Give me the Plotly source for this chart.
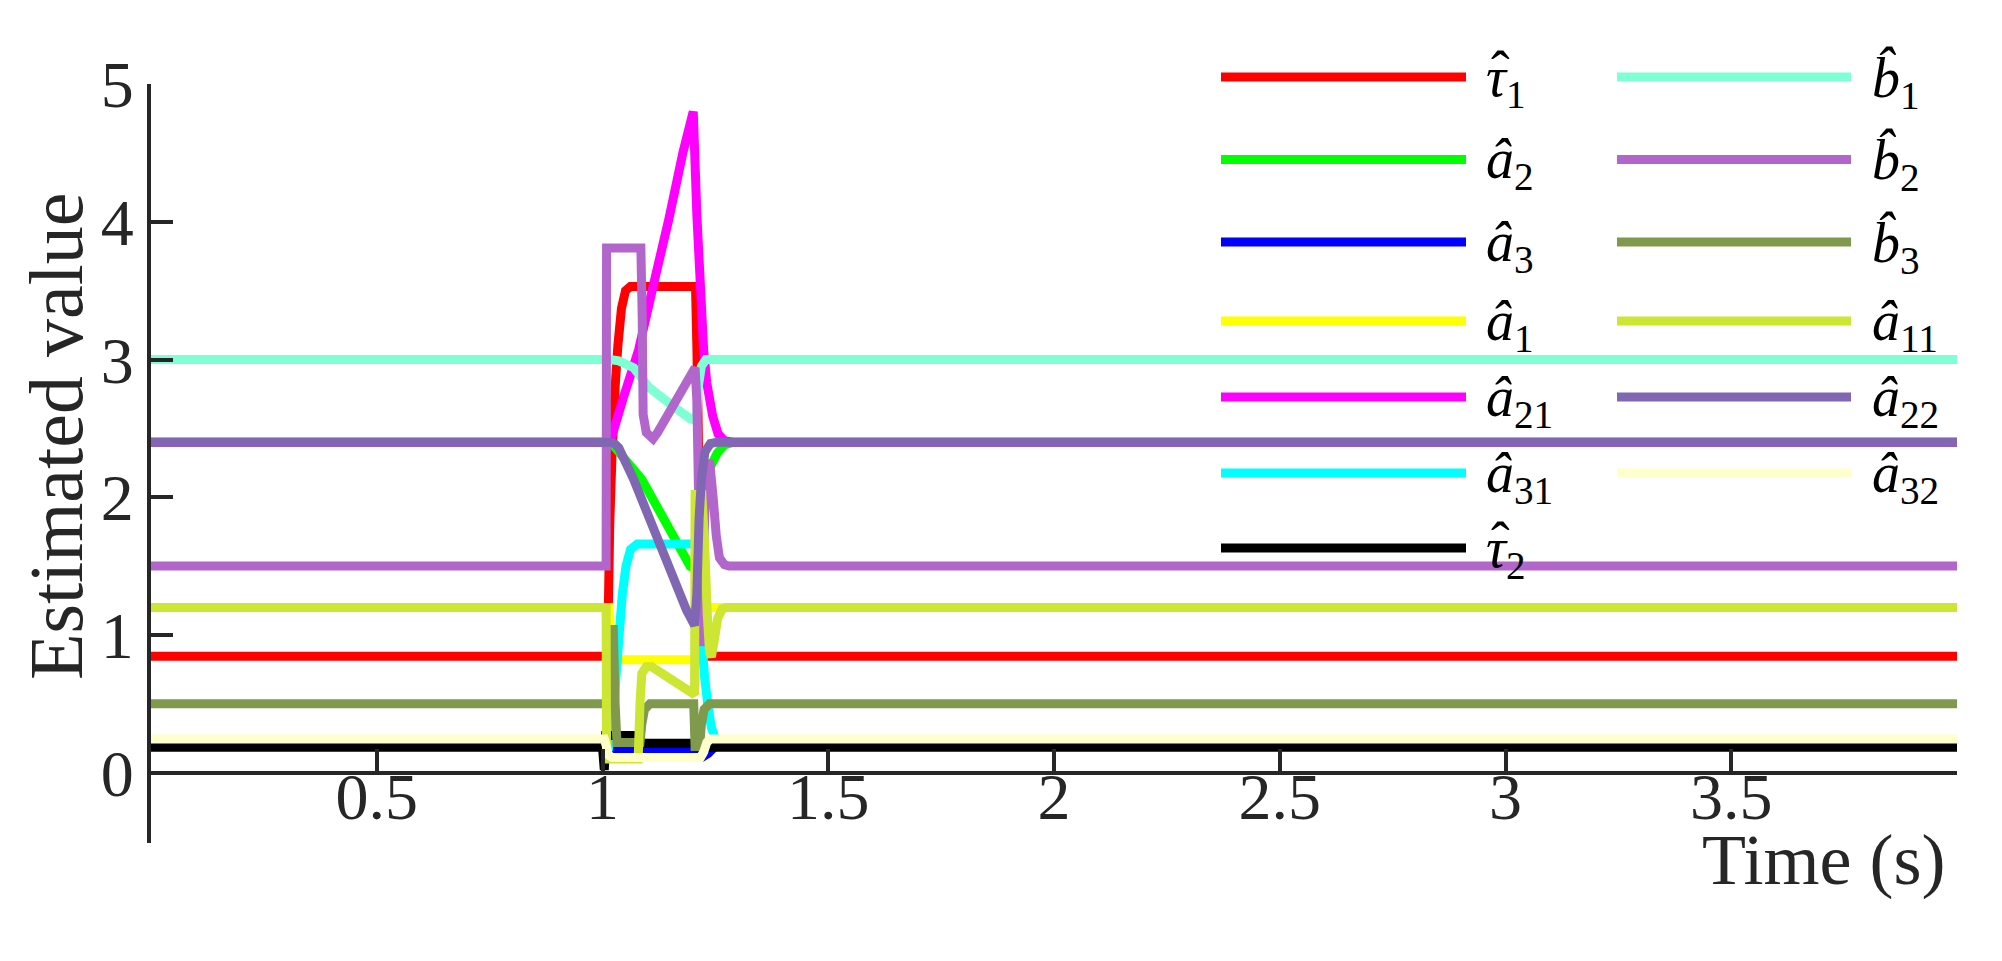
import plotly.graph_objects as go

# ---- data (time in s, estimated values) ----
tau1_t = [0, 1.009, 1.013, 1.016, 1.021, 1.028, 1.034, 1.042, 1.051, 1.062, 1.206, 1.209, 1.214, 1.219, 1.224, 1.232, 4]
tau1_v = [0.845, 0.845, 1.2, 1.8, 2.3, 2.8, 3.1, 3.37, 3.5, 3.53, 3.53, 3.1, 2.1, 1.25, 0.92, 0.845, 0.845]

a2_t = [0, 1.016, 1.028, 1.087, 1.194, 1.205, 1.214, 1.219, 1.229, 1.239, 1.254, 1.270, 1.290, 4]
a2_v = [2.4, 2.4, 2.36, 2.13, 1.5, 1.48, 1.7, 1.9, 2.1, 2.22, 2.32, 2.38, 2.4, 2.4]

a3_t = [0, 1.011, 1.016, 1.209, 1.224, 1.234, 1.249, 4]
a3_v = [0.19, 0.19, 0.16, 0.16, 0.12, 0.14, 0.19, 0.19]

a1_t = [0, 1.014, 1.019, 1.026, 1.036, 1.204, 1.209, 1.215, 1.224, 4]
a1_v = [1.2, 1.2, 1.0, 0.86, 0.82, 0.82, 0.95, 1.15, 1.2, 1.2]

a21_t = [0, 1.016, 1.026, 1.046, 1.080, 1.117, 1.147, 1.178, 1.201, 1.209, 1.224, 1.231, 1.244, 1.256, 1.270, 1.290, 4]
a21_v = [2.4, 2.4, 2.5, 2.72, 3.07, 3.6, 4.02, 4.5, 4.8, 4.05, 3.07, 2.83, 2.59, 2.46, 2.41, 2.4, 2.4]

a31_t = [0, 1.014, 1.024, 1.031, 1.038, 1.044, 1.052, 1.062, 1.077, 1.206, 1.211, 1.219, 1.226, 1.233, 1.241, 1.251, 1.265, 4]
a31_v = [0.19, 0.19, 0.4, 0.75, 1.05, 1.3, 1.5, 1.62, 1.66, 1.66, 1.4, 1.0, 0.7, 0.5, 0.33, 0.24, 0.19, 0.19]

tau2_t = [0, 1.000, 1.004, 1.007, 1.082, 1.087, 1.209, 1.219, 4]
tau2_v = [0.185, 0.185, 0.02, 0.27, 0.27, 0.215, 0.215, 0.185, 0.185]

b1_t = [0, 1.016, 1.036, 1.069, 1.102, 1.157, 1.194, 1.208, 1.212, 1.219, 1.229, 4]
b1_v = [3.0, 3.0, 2.99, 2.94, 2.8, 2.66, 2.57, 2.56, 2.8, 2.95, 3.0, 3.0]

b2_t = [0, 1.008, 1.009, 1.085, 1.088, 1.090, 1.097, 1.112, 1.122, 1.205, 1.209, 1.214, 1.219,
        1.224, 1.229, 1.237, 1.245, 1.252, 1.259, 1.270, 1.280, 4]
b2_v = [1.5, 1.5, 3.81, 3.81, 3.3, 2.6, 2.47, 2.425, 2.47, 2.94, 2.7, 1.8, 0.92,
        1.6, 2.15, 2.27, 2.0, 1.72, 1.56, 1.51, 1.5, 1.5]

b3_t = [0, 1.010, 1.013, 1.024, 1.028, 1.032, 1.083, 1.087, 1.093, 1.105, 1.202, 1.205, 1.215, 1.219, 1.225, 1.237, 4]
b3_v = [0.5, 0.5, 1.04, 1.04, 0.5, 0.22, 0.22, 0.35, 0.46, 0.5, 0.5, 0.19, 0.19, 0.35, 0.46, 0.5, 0.5]

a11_t = [0, 1.008, 1.009, 1.079, 1.083, 1.087, 1.097, 1.109, 1.204, 1.205, 1.220, 1.227, 1.232,
         1.237, 1.241, 1.247, 1.255, 1.265, 1.275, 4]
a11_v = [1.2, 1.2, 0.1, 0.1, 0.5, 0.72, 0.77, 0.77, 0.567, 2.02, 2.02, 1.6, 1.15,
         0.88, 0.84, 0.95, 1.12, 1.19, 1.2, 1.2]

a22_t = [0, 1.016, 1.026, 1.036, 1.046, 1.069, 1.186, 1.204, 1.209, 1.214, 1.219, 1.227, 1.239, 1.254, 4]
a22_v = [2.4, 2.4, 2.39, 2.36, 2.29, 2.13, 1.18, 1.07, 1.3, 1.85, 2.13, 2.33, 2.39, 2.4, 2.4]

a32_t = [0, 1.004, 1.008, 1.013, 1.021, 1.217, 1.224, 1.231, 1.239, 4]
a32_v = [0.245, 0.245, 0.2, 0.13, 0.11, 0.11, 0.15, 0.22, 0.245, 0.245]

x_ticks = [0.5, 1, 1.5, 2, 2.5, 3, 3.5, 4]
x_tick_text = ["0.5", "1", "1.5", "2", "2.5", "3", "3.5", ""]
y_ticks = [0, 1, 2, 3, 4, 5]

# legend is laid out column-major, two columns (like MATLAB NumColumns=2)
# (label, has a separate hat drawn over it, t, v, colour)
series = [
    ("<i>τ</i><sub>1</sub>", True, tau1_t, tau1_v, "#FF0000"),
    ("<i>â</i><sub>2</sub>", False, a2_t, a2_v, "#00FF00"),
    ("<i>â</i><sub>3</sub>", False, a3_t, a3_v, "#0000FF"),
    ("<i>â</i><sub>1</sub>", False, a1_t, a1_v, "#FFFF00"),
    ("<i>â</i><sub>21</sub>", False, a21_t, a21_v, "#FF00FF"),
    ("<i>â</i><sub>31</sub>", False, a31_t, a31_v, "#00FFFF"),
    ("<i>τ</i><sub>2</sub>", True, tau2_t, tau2_v, "#000000"),
    ("<i>b̂</i><sub>1</sub>", False, b1_t, b1_v, "#7FFFD4"),
    ("<i>b̂</i><sub>2</sub>", False, b2_t, b2_v, "#B266CC"),
    ("<i>b̂</i><sub>3</sub>", False, b3_t, b3_v, "#7F9A4C"),
    ("<i>â</i><sub>11</sub>", False, a11_t, a11_v, "#CCE633"),
    ("<i>â</i><sub>22</sub>", False, a22_t, a22_v, "#8066B3"),
    ("<i>â</i><sub>32</sub>", False, a32_t, a32_v, "#FFFFCC"),
]

# figure geometry (pixels)
W, H = 2002, 961
L, R, T, B = 151, 45, 84, 118
AX = "#262626"
FONT = "Liberation Serif"
LW = 9


def px(x):
    return (x - L) / (W - L - R)


def py(y):
    return (H - B - y) / (H - T - B)


fig = go.Figure()
for name, hat, t, v, color in series:
    fig.add_trace(go.Scatter(x=t, y=v, mode="lines",
                             name=name.replace("<i>τ</i>", "<i>τ̂</i>"),
                             line=dict(color=color, width=LW, simplify=False),
                             showlegend=False, hoverinfo="skip"))

# custom legend: long line samples, 2 columns
rows = [77, 159.5, 242, 321, 397, 473, 548]
cols = [(1221, 1466, 1484), (1617, 1851, 1870)]
shapes = []
annotations = []
for i, (name, hat, t, v, color) in enumerate(series):
    c, r = divmod(i, 7)
    x0, x1, xt = cols[c]
    y = rows[r]
    shapes.append(dict(type="line", xref="paper", yref="paper",
                       x0=px(x0), x1=px(x1), y0=py(y), y1=py(y),
                       line=dict(color=color, width=LW)))
    annotations.append(dict(text=name, xref="paper", yref="paper",
                            x=px(xt), y=py(y + 4), xanchor="left", yanchor="middle",
                            showarrow=False, font=dict(family=FONT, size=56, color="black")))
    if hat:
        annotations.append(dict(text="ˆ", xref="paper", yref="paper",
                                x=px(xt + 16), y=py(y - 6), xanchor="center", yanchor="middle",
                                showarrow=False, font=dict(family=FONT, size=56, color="black")))

annotations.append(dict(text="Estimated value", xref="paper", yref="paper",
                        x=px(56), y=py(436), xanchor="center", yanchor="middle",
                        textangle=-90, showarrow=False,
                        font=dict(family=FONT, size=76, color=AX)))
annotations.append(dict(text="Time (s)", xref="paper", yref="paper",
                        x=px(1823), y=py(860), xanchor="center", yanchor="middle",
                        showarrow=False, font=dict(family=FONT, size=72, color=AX)))

y_lo, y_hi = -0.51, 5
fig.update_layout(
    width=W, height=H,
    margin=dict(l=L, r=R, t=T, b=B, pad=0),
    paper_bgcolor="white", plot_bgcolor="white",
    shapes=shapes, annotations=annotations,
    xaxis=dict(range=[0, 4], anchor="free", position=(0 - y_lo) / (y_hi - y_lo),
               showline=True, linecolor=AX, linewidth=4,
               ticks="inside", ticklen=22, tickwidth=4, tickcolor=AX,
               tickvals=x_ticks, ticktext=x_tick_text, ticklabelstandoff=-35,
               tickfont=dict(family=FONT, size=66, color=AX),
               showgrid=False, zeroline=False),
    yaxis=dict(range=[y_lo, y_hi], showline=True, linecolor=AX, linewidth=4,
               ticks="inside", ticklen=22, tickwidth=4, tickcolor=AX,
               tickvals=y_ticks,
               tickfont=dict(family=FONT, size=66, color=AX),
               showgrid=False, zeroline=False),
)

# the page has a default 8px body margin; drop it so the figure sits at the corner
fig.write_html("out.html", config={"displayModeBar": False},
               post_script="document.body.style.margin='0px';")
